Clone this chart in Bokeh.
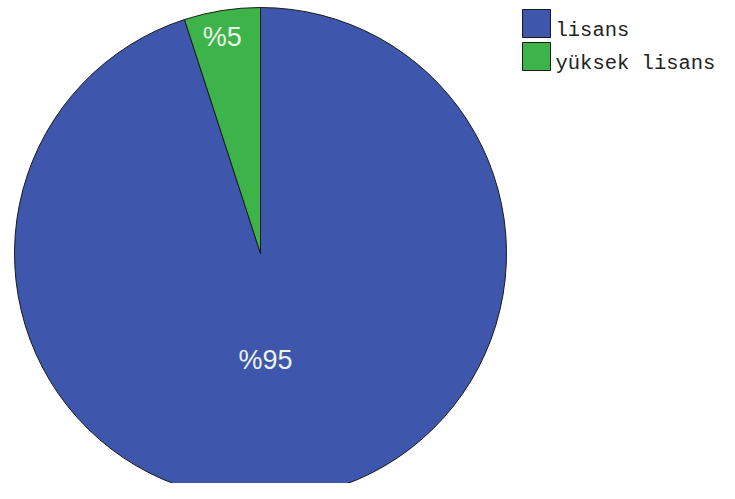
import math
from bokeh.plotting import figure
from bokeh.embed import file_html
from bokeh.resources import INLINE
from bokeh.core.properties import value

categories = ["lisans", "yüksek lisans"]
percents = [95, 5]
labels = ["%95", "%5"]
colors = ["#3e56ab", "#3cb44a"]

W, H = 719, 483
p = figure(width=W, height=H, output_backend="svg", toolbar_location=None,
           x_range=(0, W), y_range=(0, H), min_border=0)
p.axis.visible = False
p.grid.visible = False
p.outline_line_color = None

cx, cy, r = 260, H - 253, 246

# green slice starts at 12 o'clock and goes counterclockwise; blue takes the rest
ang = {}
a = 90.0
for i in [1, 0]:
    sweep = percents[i] / sum(percents) * 360.0
    ang[i] = (a, a + sweep)
    a += sweep
starts = [math.radians(ang[i][0]) for i in range(len(categories))]
ends = [math.radians(ang[i][1]) for i in range(len(categories))]

for i in range(len(categories)):
    p.wedge(x=cx, y=cy, radius=r, start_angle=starts[i], end_angle=ends[i],
            fill_color=colors[i], line_color="#1a1a1a", line_width=1)

radfrac = [0.44, 0.89]
lx, ly = [], []
for i in range(len(categories)):
    mid = (starts[i] + ends[i]) / 2
    lx.append(cx + r * radfrac[i] * math.cos(mid) - (12 if i == 0 else 4))
    ly.append(cy + r * radfrac[i] * math.sin(mid))
p.text(x=lx, y=ly, text=labels, text_color="#eaf2ea", text_font=value("Liberation Sans"),
       text_font_size="27px", text_align="center", text_baseline="middle")

# legend (layout positions in screen pixels)
box = 28
pitch = 33
lg_x, lg_top = 522, 9
bx = [lg_x + box / 2] * len(categories)
by = [H - (lg_top + box / 2 + k * pitch) for k in range(len(categories))]
p.rect(x=bx, y=by, width=box, height=box, fill_color=colors, line_color="#1a1a1a", line_width=1)
tx = [lg_x + box + 5] * len(categories)
ty = [H - (lg_top + 21 + k * pitch) for k in range(len(categories))]
p.text(x=tx, y=ty, text=categories, text_color="#222222", text_font=value("Liberation Mono"),
       text_font_size="20.5px", text_align="left", text_baseline="alphabetic")

open("out.html", "w").write(file_html(p, INLINE))
